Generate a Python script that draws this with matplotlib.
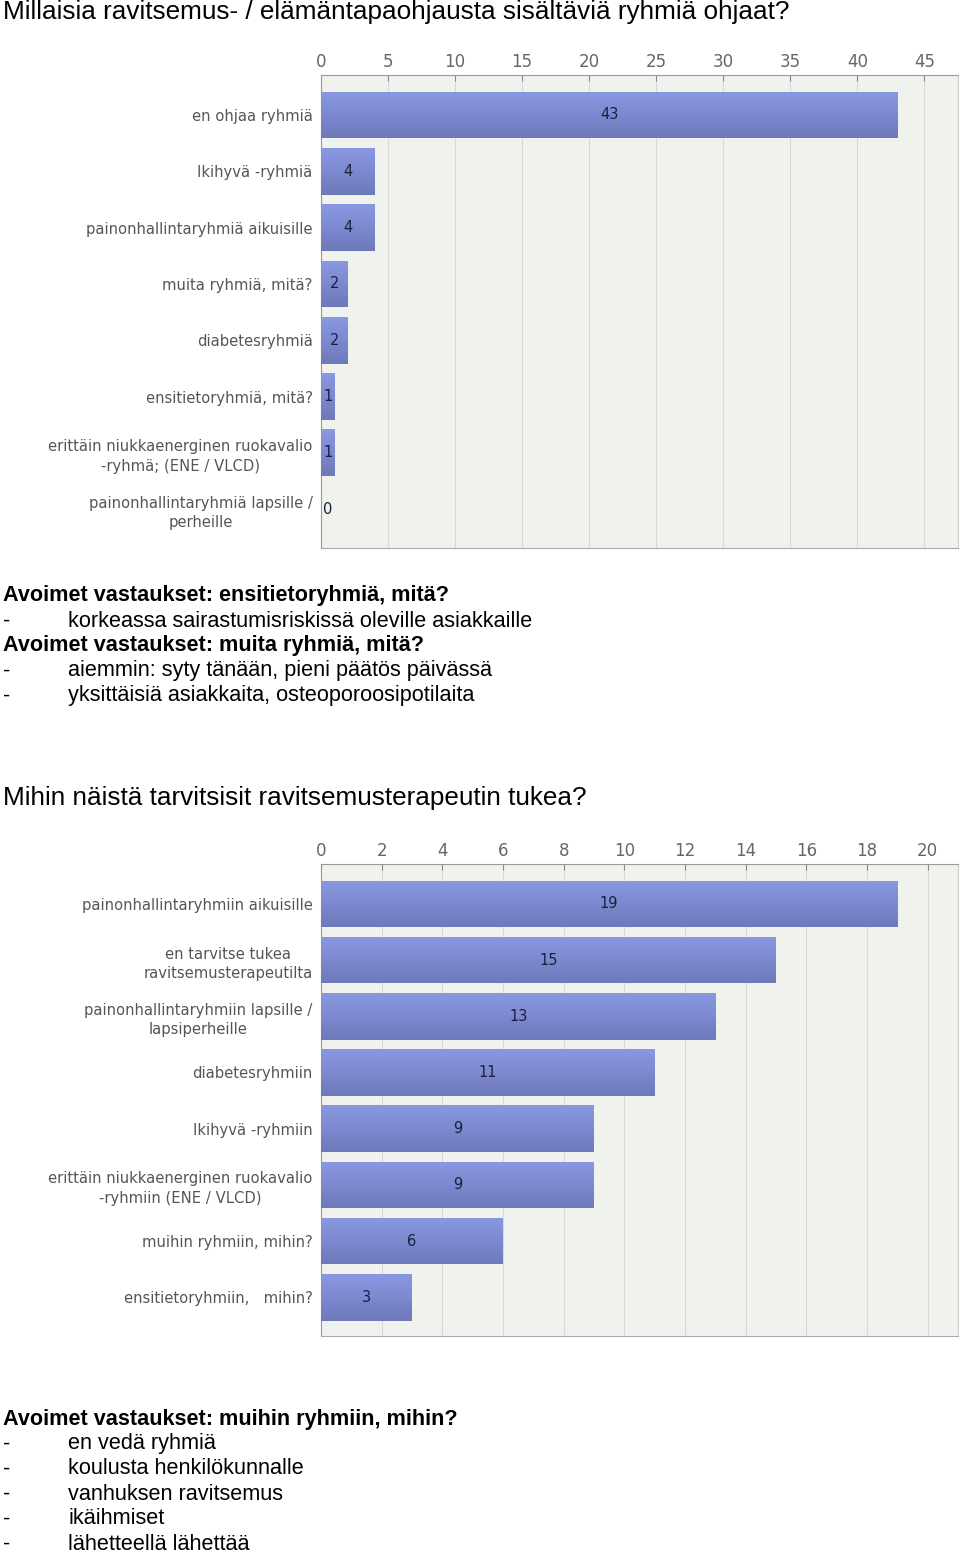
import numpy as np
import matplotlib
matplotlib.use('Agg')
import matplotlib.pyplot as plt
from matplotlib.colors import LinearSegmentedColormap

W, H = 960, 1553

cats1 = ['en ohjaa ryhmiä', 'Ikihyvä -ryhmiä', 'painonhallintaryhmiä aikuisille',
         'muita ryhmiä, mitä?', 'diabetesryhmiä', 'ensitietoryhmiä, mitä?',
         'erittäin niukkaenerginen ruokavalio\n-ryhmä; (ENE / VLCD)',
         'painonhallintaryhmiä lapsille /\nperheille']
vals1 = [43, 4, 4, 2, 2, 1, 1, 0]
ticks1 = [0, 5, 10, 15, 20, 25, 30, 35, 40, 45]

cats2 = ['painonhallintaryhmiin aikuisille', 'en tarvitse tukea\nravitsemusterapeutilta',
         'painonhallintaryhmiin lapsille /\nlapsiperheille', 'diabetesryhmiin',
         'Ikihyvä -ryhmiin', 'erittäin niukkaenerginen ruokavalio\n-ryhmiin (ENE / VLCD)',
         'muihin ryhmiin, mihin?', 'ensitietoryhmiin,   mihin?']
vals2 = [19, 15, 13, 11, 9, 9, 6, 3]
ticks2 = [0, 2, 4, 6, 8, 10, 12, 14, 16, 18, 20]

title1 = 'Millaisia ravitsemus- / elämäntapaohjausta sisältäviä ryhmiä ohjaat?'
title2 = 'Mihin näistä tarvitsisit ravitsemusterapeutin tukea?'
open1_head = 'Avoimet vastaukset: ensitietoryhmiä, mitä?'
open1_items = ['korkeassa sairastumisriskissä oleville asiakkaille']
open2_head = 'Avoimet vastaukset: muita ryhmiä, mitä?'
open2_items = ['aiemmin: syty tänään, pieni päätös päivässä',
               'yksittäisiä asiakkaita, osteoporoosipotilaita']
open3_head = 'Avoimet vastaukset: muihin ryhmiin, mihin?'
open3_items = ['en vedä ryhmiä', 'koulusta henkilökunnalle', 'vanhuksen ravitsemus',
               'ikäihmiset', 'lähetteellä lähettää']

plt.rcParams['font.family'] = ['Liberation Sans', 'DejaVu Sans']
fig = plt.figure(figsize=(W / 100, H / 100), dpi=100)
fig.patch.set_facecolor('white')

bar_cmap = LinearSegmentedColormap.from_list('bar', ['#8a98e2', '#7d89d0', '#6d79b8'])


def fy(y):
    return 1 - y / H


def bar_chart(top, bottom, cats, vals, ticks, xmax, minx):
    ax = fig.add_axes([321 / W, fy(bottom), (958 - 321) / W, (bottom - top) / H])
    ax.set_facecolor('#f0f2ee')
    n = len(cats)
    y = np.arange(n)
    bars = ax.barh(y, vals, height=0.83, color='#7d89d0', zorder=2)
    grad = np.linspace(0, 1, 64).reshape(-1, 1)
    for b in bars:
        if b.get_width() <= 0:
            continue
        x0, y0 = b.get_x(), b.get_y()
        im = ax.imshow(grad, cmap=bar_cmap, aspect='auto', zorder=3,
                       extent=[x0, x0 + b.get_width(), y0 + b.get_height(), y0],
                       interpolation='bilinear')
        im.set_clip_path(b)
    for i, v in enumerate(vals):
        ax.text(max(v / 2, minx), i, str(v),
                ha='center', va='center', fontsize=10.5, color='#1c1f3c',
                family='DejaVu Sans', zorder=4)
    ax.set_xlim(0, xmax)
    ax.set_ylim(n - 1 + 0.69, -0.71)
    ax.set_xticks(ticks)
    ax.xaxis.tick_top()
    ax.tick_params(axis='x', direction='in', length=4, color='#888', labelsize=12,
                   labelcolor='#666', pad=3)
    for lab in ax.get_xticklabels():
        lab.set_family('DejaVu Sans')
    ax.grid(axis='x', color='#d8d8d8', linewidth=0.8, zorder=1)
    ax.set_axisbelow(True)
    ax.set_yticks(y)
    ax.set_yticklabels(cats, fontsize=10.6, color='#555555', family='DejaVu Sans',
                       multialignment='center', linespacing=1.35)
    ax.tick_params(axis='y', length=0, pad=6)
    ax.spines['top'].set_color('#999999')
    ax.spines['left'].set_color('#999999')
    ax.spines['bottom'].set_color('#aaaaaa')
    ax.spines['right'].set_color('#cccccc')
    return ax


bar_chart(75, 548, cats1, vals1, ticks1, 47.5, 0.5)
bar_chart(864, 1336, cats2, vals2, ticks2, 21, 0.25)

fig.text(3 / W, fy(12), title1, fontsize=18.8, va='center', ha='left', color='black')
fig.text(3 / W, fy(798), title2, fontsize=18.8, va='center', ha='left', color='black')


def open_block(y, head, items):
    fig.text(3 / W, fy(y), head, fontsize=15.6, fontweight='bold', va='center')
    for k, it in enumerate(items):
        yy = y + 25 * (k + 1)
        fig.text(3 / W, fy(yy), '-', fontsize=15.6, va='center')
        fig.text(68 / W, fy(yy), it, fontsize=15.6, va='center')


open_block(596, open1_head, open1_items)
open_block(646, open2_head, open2_items)
open_block(1419, open3_head, open3_items)

fig.savefig('out.png', dpi=100)
